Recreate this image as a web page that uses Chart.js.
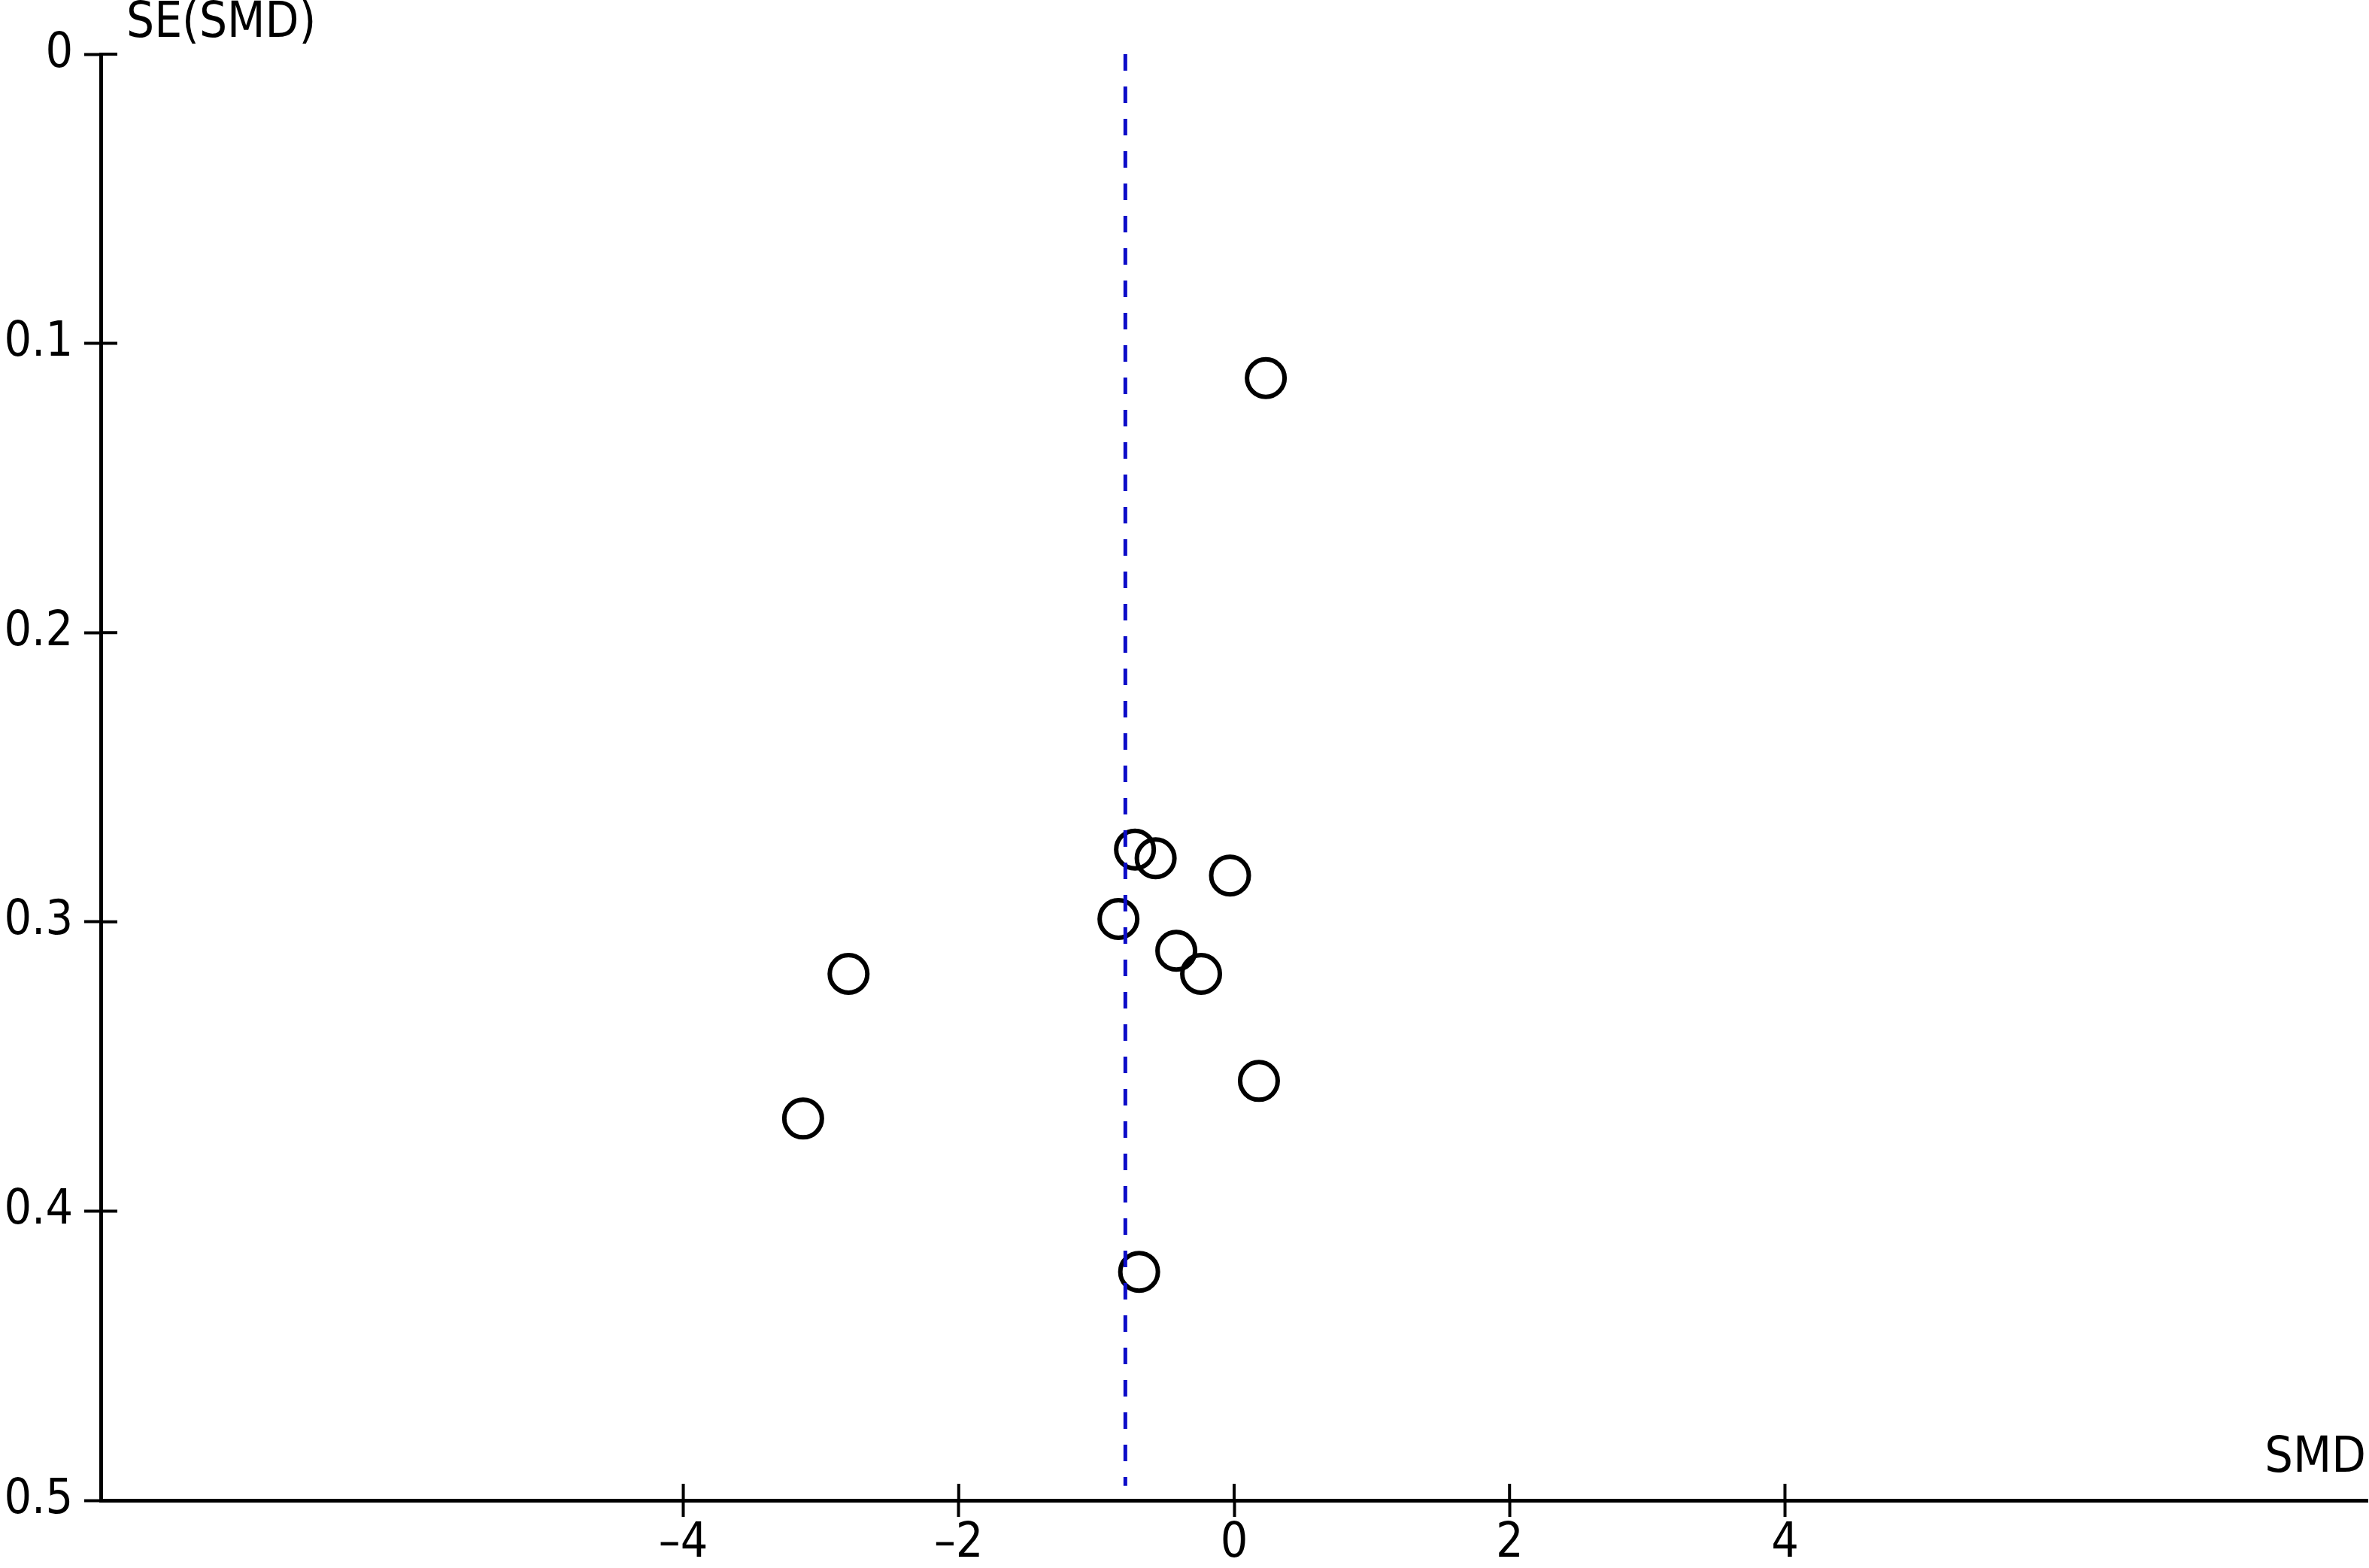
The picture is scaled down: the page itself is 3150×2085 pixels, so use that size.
<!DOCTYPE html>
<html>
<head>
<meta charset="utf-8">
<script src="https://cdn.jsdelivr.net/npm/chart.js@4.4.1/dist/chart.umd.min.js"></script>
<style>
  html, body { margin: 0; padding: 0; background: #ffffff; }
  #wrap { width: 3150px; height: 2085px; }
</style>
</head>
<body>
<div id="wrap"><canvas id="funnel" width="3150" height="2085"></canvas></div>
<script>
// study estimates
const smd = [0.23, -0.72, -0.57, -0.03, -0.84, -0.42, -0.24, -2.80, 0.18, -3.13, -0.69];
const seSmd = [0.112, 0.275, 0.278, 0.284, 0.299, 0.310, 0.318, 0.318, 0.355, 0.368, 0.421];
const pooledSmd = -0.79;   // dashed line
const pooledSpan = [0, 0.495];

const xTickValues = [-4, -2, 0, 2, 4];
const yTickValues = [0, 0.1, 0.2, 0.3, 0.4, 0.5];
const xLimits = [-8.23, 8.23];
const yLimits = [0, 0.5];

const FONT = "'DejaVu Sans Condensed', 'DejaVu Sans', sans-serif";
const TICK_LEN = 22;

const points = smd.map((x, i) => ({ x: x, y: seSmd[i] }));
const pooledLine = pooledSpan.map(y => ({ x: pooledSmd, y: y }));

// inner half of the tick marks + the two axis captions
const axisExtras = {
  id: 'axisExtras',
  afterDraw(chart) {
    const ctx = chart.ctx;
    const xs = chart.scales.x;
    const ys = chart.scales.y;
    const area = chart.chartArea;
    ctx.save();
    ctx.strokeStyle = '#000';
    ctx.lineWidth = 4;
    ctx.beginPath();
    ys.ticks.forEach(t => {
      const py = ys.getPixelForValue(t.value);
      ctx.moveTo(area.left, py);
      ctx.lineTo(area.left + TICK_LEN, py);
    });
    xs.ticks.forEach(t => {
      const px = xs.getPixelForValue(t.value);
      ctx.moveTo(px, area.bottom);
      ctx.lineTo(px, area.bottom - TICK_LEN);
    });
    ctx.stroke();

    ctx.fillStyle = '#000';
    ctx.textBaseline = 'middle';
    ctx.font = '65px ' + FONT;
    ctx.textAlign = 'left';
    ctx.fillText('SE(SMD)', 168, 32);
    ctx.font = '66px ' + FONT;
    ctx.textAlign = 'right';
    ctx.fillText('SMD', 3146, 1940);
    ctx.restore();
  }
};

new Chart(document.getElementById('funnel'), {
  type: 'scatter',
  data: {
    datasets: [{
      label: 'pooled',
      type: 'line',
      data: pooledLine,
      borderColor: '#0c0cc8',
      borderWidth: 5,
      borderDash: [22, 21],
      pointRadius: 0,
      fill: false,
      order: 0
    }, {
      label: 'studies',
      data: points,
      pointStyle: 'circle',
      pointRadius: 25,
      borderWidth: 6,
      borderColor: '#000000',
      backgroundColor: 'rgba(0,0,0,0)',
      order: 1
    }]
  },
  options: {
    responsive: false,
    animation: false,
    layout: { autoPadding: false, padding: { left: 0, top: 72, right: 2, bottom: 0 } },
    plugins: {
      legend: { display: false },
      tooltip: { enabled: false }
    },
    scales: {
      x: {
        type: 'linear',
        position: 'bottom',
        min: xLimits[0],
        max: xLimits[1],
        afterBuildTicks: scale => { scale.ticks = xTickValues.map(v => ({ value: v })); },
        afterFit: scale => {
          scale.height = 90;
          scale.paddingLeft = 0;
          scale.paddingRight = 0;
        },
        border: { display: true, color: '#000', width: 5 },
        grid: { display: true, drawOnChartArea: false, drawTicks: true, tickLength: TICK_LEN, tickWidth: 4, tickColor: '#000' },
        ticks: {
          color: '#000',
          padding: 4,
          maxRotation: 0,
          font: { family: FONT, size: 64, lineHeight: 1 },
          callback: v => v < 0 ? '\u2013' + Math.abs(v) : String(v)
        }
      },
      y: {
        type: 'linear',
        position: 'left',
        reverse: true,
        min: yLimits[0],
        max: yLimits[1],
        afterBuildTicks: scale => { scale.ticks = yTickValues.map(v => ({ value: v })); },
        afterFit: scale => {
          scale.width = 134;
          scale.paddingTop = 0;
          scale.paddingBottom = 0;
        },
        border: { display: true, color: '#000', width: 5 },
        grid: { display: true, drawOnChartArea: false, drawTicks: true, tickLength: TICK_LEN, tickWidth: 4, tickColor: '#000' },
        ticks: {
          color: '#000',
          padding: 15,
          font: { family: FONT, size: 64, lineHeight: 1 },
          callback: v => v === 0 ? '0' : v.toFixed(1)
        }
      }
    }
  },
  plugins: [axisExtras]
});
</script>
</body>
</html>
